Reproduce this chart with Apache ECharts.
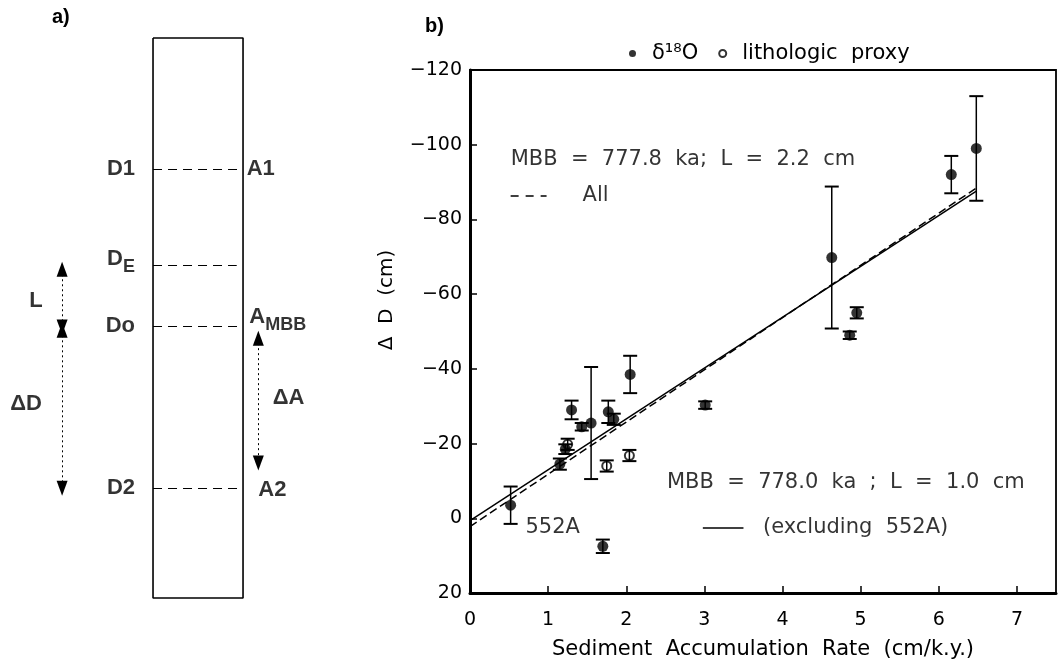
<!DOCTYPE html>
<html><head><meta charset="utf-8">
<script src="https://cdn.jsdelivr.net/npm/echarts@6/dist/echarts.min.js"></script>
<style>html,body{margin:0;padding:0;background:#fff}#c{width:1061px;height:665px}</style>
</head><body><div id="c"></div>
<script>
// ---------- Panel b data ----------
const o18X   = [0.52, 1.15, 1.22, 1.30, 1.43, 1.55, 1.70, 1.77, 1.84, 2.05, 3.01, 4.63, 4.86, 4.95, 6.16, 6.48];
const o18Y   = [-3.5, -14.5, -18.5, -29.0, -24.5, -25.5, 7.5, -28.5, -26.5, -38.5, -30.3, -69.8, -49.0, -55.0, -92.0, -99.0];
const o18Err = [5.0, 1.5, 1.3, 2.5, 1.0, 15.0, 1.8, 3.0, 1.5, 5.0, 1.0, 19.0, 1.0, 1.5, 5.0, 14.0];
const lithX   = [1.25, 1.75, 2.04];
const lithY   = [-19.8, -14.0, -16.8];
const lithErr = [1.5, 1.5, 1.5];
const fitAllX  = [0, 6.48];
const fitAllY  = [2.2, -88.4];
const fitExclX = [0, 6.48];
const fitExclY = [0.6, -87.6];
const xTickValues = [0, 1, 2, 3, 4, 5, 6, 7];
const yTickValues = [-120, -100, -80, -60, -40, -20, 0, 20];
const annotTexts = ['MBB  =  777.8  ka;  L  =  2.2  cm', 'All', 'MBB  =  778.0  ka  ;  L  =  1.0  cm', '(excluding  552A)', '552A'];
const annotX = [0.52, 1.44, 2.52, 3.75, 0.71];
const annotY = [-95.9, -86.3, -9.7, 2.6, 2.6];
const keyDashX = [0.52, 0.98];
const keyDashY = [-86.3, -86.3];
const keySolidX = [2.98, 3.50];
const keySolidY = [2.6, 2.6];

// ---------- Panel a schematic (box depth 0–10, box width 0–1) ----------
const schemLevelNames  = ['D1', 'DE', 'Do', 'D2'];
const schemLevelDepths = [2.34, 4.05, 5.14, 8.04];
const schemAgeNames  = ['A1', 'AMBB', 'A2'];
const schemAgeDepths = [2.34, 4.98, 8.07];

const FONT = '"DejaVu Sans", sans-serif';
const BFONT = '"Liberation Sans", Arial, sans-serif';

const zip = (xs, ys) => xs.map((x, i) => [x, ys[i]]);
const minus = v => (v < 0 ? '\u2212' + Math.abs(v) : String(v));

function errBarRender(params, api) {
  const x = api.value(0);
  const p1 = api.coord([x, api.value(1)]);
  const p2 = api.coord([x, api.value(2)]);
  const w = 7;
  const st = { stroke: '#000', lineWidth: 1.5 };
  return { type: 'group', children: [
    { type: 'line', shape: { x1: p1[0], y1: p1[1], x2: p2[0], y2: p2[1] }, style: st },
    { type: 'line', shape: { x1: p1[0] - w, y1: p1[1], x2: p1[0] + w, y2: p1[1] }, style: { stroke: '#000', lineWidth: 2 } },
    { type: 'line', shape: { x1: p2[0] - w, y1: p2[1], x2: p2[0] + w, y2: p2[1] }, style: { stroke: '#000', lineWidth: 2 } }
  ]};
}

// schematic helpers
const lvl = n => schemLevelDepths[schemLevelNames.indexOf(n)];
const age = n => schemAgeDepths[schemAgeNames.indexOf(n)];
const levelEnds = { D1: 1, DE: 0.93, Do: 1, D2: 1 };
const dashStyle = { color: '#000', width: 1, type: [9, 6] };
const schemLines = schemLevelNames.map(n => [
  { coord: [0, lvl(n)], symbol: 'none', lineStyle: dashStyle },
  { coord: [levelEnds[n], lvl(n)], symbol: 'none' }
]);
const arrowStyle = { color: '#000', width: 1, type: [2, 3] };
const schemArrows = [
  [{ coord: [-1.01, lvl('DE') + 0.08], lineStyle: arrowStyle }, { coord: [-1.01, lvl('Do') + 0.02] }],
  [{ coord: [-1.01, lvl('Do') + 0.08], lineStyle: arrowStyle }, { coord: [-1.01, lvl('D2')] }],
  [{ coord: [1.17, age('AMBB') + 0.38], lineStyle: arrowStyle }, { coord: [1.17, age('A2') - 0.48] }]
];

const richMain = { fontFamily: BFONT, fontSize: 22, fontWeight: 'bold', color: '#000', lineHeight: 34 };
const richSub = { fontFamily: BFONT, fontSize: 18, fontWeight: 'bold', color: '#000', lineHeight: 12, verticalAlign: 'bottom' };
const schemLabelItems = [];
schemLevelNames.forEach(n => {
  const txt = n === 'DE' ? '{m|D}{s|E}' : '{m|' + n + '}';
  schemLabelItems.push({ value: [-0.2, lvl(n) - (n === 'DE' ? 0.1 : 0)], label: { formatter: txt, position: 'left', distance: 0 } });
});
schemAgeNames.forEach((n, i) => {
  const txt = n === 'AMBB' ? '{m|A}{s|MBB}' : '{m|' + n + '}';
  const xo = n === 'A1' ? 1.04 : (n === 'AMBB' ? 1.07 : 1.17);
  schemLabelItems.push({ value: [xo, schemAgeDepths[i]], label: { formatter: txt, position: 'right', distance: 0 } });
});
schemLabelItems.push({ value: [-1.3, (lvl('DE') + lvl('Do')) / 2 + 0.1], label: { formatter: '{m|L}', position: 'inside' } });
schemLabelItems.push({ value: [-1.41, (lvl('Do') + lvl('D2')) / 2 - 0.05], label: { formatter: '{m|\u0394D}', position: 'inside' } });
schemLabelItems.push({ value: [1.33, (age('AMBB') + age('A2')) / 2 - 0.1], label: { formatter: '{m|\u0394A}', position: 'right', distance: 0 } });

const chart = echarts.init(document.getElementById('c'), null, { renderer: 'canvas' });
chart.setOption({
  animation: false,
  backgroundColor: '#fff',
  textStyle: { fontFamily: FONT, color: '#000' },
  graphic: [
    { type: 'text', left: 52, top: 7, style: { text: 'a)', font: 'bold 20px ' + BFONT, fill: '#000' } },
    { type: 'text', left: 425, top: 16, style: { text: 'b)', font: 'bold 20px ' + BFONT, fill: '#000' } },
    { type: 'text', x: 387, y: 300, rotation: Math.PI / 2, style: { text: '\u0394  D  (cm)', font: '20px ' + FONT, fill: '#000', align: 'center', verticalAlign: 'middle' } }
  ],
  legend: {
    data: [{ name: '\u03b4\u00b9\u2078O', icon: 'circle' }, { name: 'lithologic  proxy', icon: 'emptyCircle' }],
    left: 624, top: 38, itemWidth: 7, itemHeight: 7, itemGap: 20, selectedMode: false,
    textStyle: { fontFamily: FONT, fontSize: 21, color: '#000', padding: [0, 0, 0, 11] }
  },
  grid: [
    { left: 470, top: 70, width: 586, height: 523, show: true, borderColor: '#000', borderWidth: 1.8, backgroundColor: 'transparent' },
    { left: 0, top: 38, width: 310, height: 560, show: false }
  ],
  xAxis: [
    { type: 'value', gridIndex: 0, min: 0, max: 7.5,
      name: 'Sediment  Accumulation  Rate  (cm/k.y.)', nameLocation: 'middle', nameGap: 46,
      nameTextStyle: { fontFamily: FONT, fontSize: 21, color: '#000' },
      axisLine: { show: true, onZero: false, lineStyle: { color: '#000', width: 3 } },
      axisTick: { show: true, inside: true, length: 7, customValues: xTickValues, lineStyle: { color: '#000', width: 1.5 } },
      axisLabel: { customValues: xTickValues, fontFamily: FONT, fontSize: 19, color: '#000', margin: 18 },
      splitLine: { show: false } },
    { type: 'value', gridIndex: 1, min: -1.7, max: 1.744, show: false }
  ],
  yAxis: [
    { type: 'value', gridIndex: 0, min: -120, max: 20, interval: 20, inverse: true,
      axisLine: { show: true, onZero: false, lineStyle: { color: '#000', width: 3 } },
      axisTick: { show: true, inside: true, length: 7, customValues: yTickValues, lineStyle: { color: '#000', width: 1.5 } },
      axisLabel: { customValues: yTickValues, formatter: minus, fontFamily: FONT, fontSize: 19, color: '#000', margin: 8 },
      splitLine: { show: false } },
    { type: 'value', gridIndex: 1, min: 0, max: 10, inverse: true, show: false }
  ],
  series: [
    // ----- panel a -----
    { type: 'line', xAxisIndex: 1, yAxisIndex: 1, data: [[0, 0], [1, 0], [1, 10], [0, 10], [0, 0]],
      symbol: 'none', clip: false, silent: true, lineStyle: { color: '#000', width: 1.6 },
      markLine: { silent: true, animation: false, label: { show: false }, symbol: ['triangle', 'triangle'], symbolSize: [11, 15],
        lineStyle: { color: '#000' }, emphasis: { disabled: true },
        data: schemLines.concat(schemArrows) } },
    { type: 'scatter', xAxisIndex: 1, yAxisIndex: 1, symbolSize: 0, silent: true, data: schemLabelItems,
      label: { show: true, rich: { m: richMain, s: richSub } } },
    // ----- panel b -----
    { type: 'line', name: 'All', data: zip(fitAllX, fitAllY), symbol: 'none', silent: true, z: 2,
      lineStyle: { color: '#000', width: 1.5, type: [8, 4] } },
    { type: 'line', name: 'excl', data: zip(fitExclX, fitExclY), symbol: 'none', silent: true, z: 2,
      lineStyle: { color: '#000', width: 1.5 } },
    { type: 'line', name: 'keyDash', data: zip(keyDashX, keyDashY), symbol: 'none', silent: true,
      lineStyle: { color: '#000', width: 1.5, type: [8, 7] } },
    { type: 'line', name: 'keySolid', data: zip(keySolidX, keySolidY), symbol: 'none', silent: true,
      lineStyle: { color: '#000', width: 1.5 } },
    { type: 'scatter', name: 'lithologic  proxy', data: zip(lithX, lithY), symbol: 'emptyCircle', symbolSize: 9, z: 3,
      itemStyle: { color: '#000', borderColor: '#000', borderWidth: 1.5 }, silent: true },
    { type: 'scatter', name: '\u03b4\u00b9\u2078O', data: zip(o18X, o18Y), symbol: 'circle', symbolSize: 11, z: 4,
      itemStyle: { color: '#000' }, silent: true },
    { type: 'custom', name: 'err18', renderItem: errBarRender, z: 5, silent: true,
      data: o18X.map((x, i) => [x, o18Y[i] - o18Err[i], o18Y[i] + o18Err[i]]), encode: { x: 0, y: [1, 2] } },
    { type: 'custom', name: 'errLith', renderItem: errBarRender, z: 5, silent: true,
      data: lithX.map((x, i) => [x, lithY[i] - lithErr[i], lithY[i] + lithErr[i]]), encode: { x: 0, y: [1, 2] } },
    { type: 'scatter', name: 'annot', symbolSize: 0, silent: true, z: 6,
      data: annotX.map((x, i) => ({ value: [x, annotY[i]], label: { formatter: annotTexts[i] } })),
      label: { show: true, position: 'right', distance: 0, fontFamily: FONT, fontSize: 21, color: '#000' } }
  ]
});
</script></body></html>
